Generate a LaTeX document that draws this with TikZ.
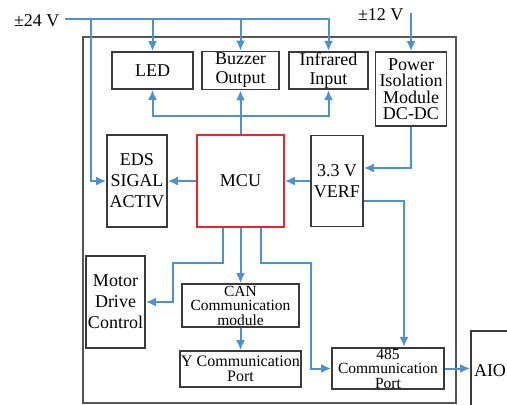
\documentclass[tikz,border=0pt]{standalone}
\usepackage{fontspec}
\setmainfont{Liberation Serif}
\usepackage{tikz}
\usetikzlibrary{arrows.meta, positioning, calc}
\definecolor{lineBlue}{HTML}{4B93CF}
\definecolor{edgeGray}{HTML}{3A3A3A}
\definecolor{frameGray}{HTML}{555555}
\definecolor{mcuRed}{HTML}{E5282E}
\tikzset{
  modbox/.style={draw=edgeGray, line width=1.6pt, fill=white, inner sep=1pt,
                 align=center, font=\fontsize{18}{21}\selectfont},
  commbox/.style={modbox, font=\fontsize{16}{15}\selectfont},
  link/.style={-{Latex[length=10pt,width=9pt]}, draw=lineBlue, line width=2pt},
}
\begin{document}
\begin{tikzpicture}[x=1pt, y=-1pt]
\useasboundingbox (0,0) rectangle (507,405);
\draw[color=frameGray, line width=1.2pt] (83,37) rectangle (456,403);
% supply rails
\node[anchor=east, font=\fontsize{18}{21}\selectfont] (v24) at (63,21) {±24 V};
\node[anchor=east, font=\fontsize{18}{21}\selectfont] (v12) at (407,15) {±12 V};
\coordinate (bus24) at (65,19);
\coordinate (top12) at (411,13);
% top row
\node[modbox, minimum width=81, minimum height=37] (led) at (152.5,70.5) {LED};
\node[modbox, minimum width=77, minimum height=38, font=\fontsize{18}{19}\selectfont]
     (buz) at (240.5,70.5) {Buzzer\\Output};
\node[modbox, minimum width=79, minimum height=37, font=\fontsize{18}{19}\selectfont]
     (ir)  at (328.5,70.5) {Infrared\\Input};
\node[modbox, minimum width=71, minimum height=74, font=\fontsize{18}{16.5}\selectfont]
     (pwr) at (411,89) {Power\\Isolation\\Module\\DC-DC};
% middle row
\node[modbox, minimum width=60, minimum height=92] (eds) at (137,181) {EDS\\SIGAL\\ACTIV};
\node[modbox, draw=mcuRed, minimum width=87, minimum height=92] (mcu) at (240.5,181) {MCU};
\node[modbox, minimum width=52, minimum height=91] (vref) at (337,181) {3.3 V\\VERF};
% bottom row
\node[modbox, minimum width=59, minimum height=92] (mot) at (115.5,302) {Motor\\Drive\\Control};
\node[commbox, minimum width=117, minimum height=43, font=\fontsize{15.5}{14.5}\selectfont]
     (can) at (240.5,305.5) {CAN\\Communication\\module};
\node[commbox, minimum width=117, minimum height=36] (ycom) at (240.5,369) {Y Communication\\Port};
\node[commbox, minimum width=112, minimum height=37, font=\fontsize{15.5}{14.5}\selectfont]
     (p485) at (388,368.5) {485\\Communication\\Port};
\node[modbox, minimum width=38, minimum height=80] (aio) at (490,371) {AIO};
% connectors
\draw[link] (bus24) -| (ir.north);
\draw[link] (bus24 -| led.north) -- (led.north);
\draw[link] (bus24 -| buz.north) -- (buz.north);
\draw[link] ($(bus24)+(26,0)$) |- (eds.west);
\draw[link] (top12) -- (pwr.north);
\draw[link] (mcu.north) -- (buz.south);
\draw[link] ($(mcu.north)+(0,-18)$) -| (led.south);
\draw[link] ($(mcu.north)+(0,-18)$) -| (ir.south);
\draw[link] (vref.west) -- (mcu.east);
\draw[link] (mcu.west) -- (eds.east);
\draw[link] (pwr.south) |- ($(vref.east)+(0,-13)$);
\draw[link] ($(vref.east)+(0,20)$) -| ($(p485.north)+(16,0)$);
\draw[link] ($(mcu.south)+(-18,0)$) -- ++(0,35) -| ($(mot.east)+(27,0)$) -- (mot.east);
\draw[link] (mcu.south) -- (can.north);
\draw[link] ($(mcu.south)+(20,0)$) -- ++(0,35) -| ($(p485.west)+(-20,0)$) -- (p485.west);
\draw[link] (can.south) -- (ycom.north);
\draw[link] (p485.east) -- (p485.east -| aio.west);
\end{tikzpicture}
\end{document}
